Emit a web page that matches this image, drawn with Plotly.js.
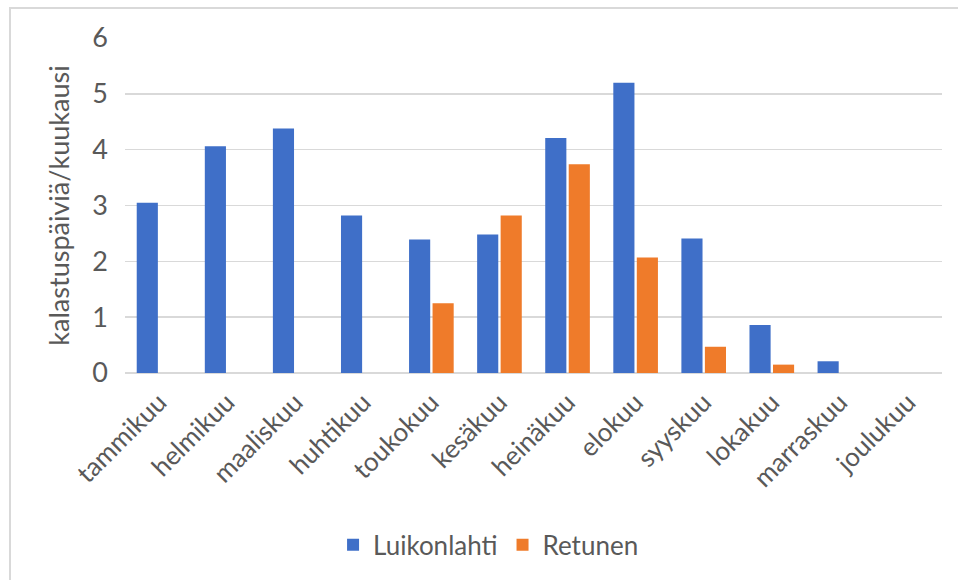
<!DOCTYPE html>
<html>
<head>
<meta charset="utf-8">
<script src="https://cdn.plot.ly/plotly-3.0.1.min.js"></script>
<style>
  html, body { margin: 0; padding: 0; background: #fff; }
  #frame { position: absolute; left: 9px; top: 7px; width: 960px; height: 580px;
           border-top: 2px solid #d9d9d9; border-left: 2px solid #d9d9d9; box-sizing: border-box; pointer-events: none; }
  #chart { position: absolute; left: 0; top: 0; width: 958px; height: 580px; }
</style>
</head>
<body>
<div id="chart"></div>
<div id="frame"></div>
<script>
const months = ["tammikuu","helmikuu","maaliskuu","huhtikuu","toukokuu","kesäkuu","heinäkuu","elokuu","syyskuu","lokakuu","marraskuu","joulukuu"];
const luikonlahti = [3.05, 4.06, 4.38, 2.82, 2.39, 2.48, 4.21, 5.2, 2.41, 0.86, 0.21, 0];
const retunen = [0, 0, 0, 0, 1.25, 2.82, 3.74, 2.07, 0.47, 0.15, 0, 0];
const yTicks = [0, 1, 2, 3, 4, 5, 6];

const fontFam = "Lato, 'Open Sans', sans-serif";
const grey = "#595959";

const traces = [
  { type: "bar", name: "Luikonlahti", x: months, y: luikonlahti,
    marker: { color: "#3f6fc8" }, hoverinfo: "none" },
  { type: "bar", name: "Retunen", x: months, y: retunen,
    marker: { color: "#ef7b2a" }, hoverinfo: "none" }
];

const layout = {
  width: 958, height: 580,
  margin: { l: 125, r: 16, t: 38, b: 205 },
  paper_bgcolor: "rgba(0,0,0,0)", plot_bgcolor: "#fff",
  barmode: "group", bargap: 0.31, bargroupgap: 0.1,
  font: { family: fontFam, color: grey, size: 26 },
  showlegend: true,
  legend: { orientation: "h", x: 0.445, xanchor: "center", y: -0.513, yanchor: "middle",
            font: { family: fontFam, size: 26, color: grey }, itemwidth: 30, traceorder: "normal" },
  xaxis: { type: "category", tickangle: -45, showgrid: false, zeroline: false, showline: false, automargin: false,
           ticks: "", tickfont: { family: fontFam, size: 26, color: grey }, ticklabelstandoff: 8 },
  yaxis: { range: [0, 6], tickvals: yTicks, ticktext: yTicks.map(String), showgrid: true, automargin: false,
           gridcolor: "#d9d9d9", gridwidth: 1.5, zeroline: true, zerolinecolor: "#d9d9d9", zerolinewidth: 1.5,
           showline: false, ticks: "", tickfont: { family: fontFam, size: 27, color: grey }, ticklabelstandoff: 16,
           title: { text: "kalastuspäiviä/kuukausi", font: { family: fontFam, size: 27, color: grey }, standoff: 14 } }
};

Plotly.newPlot("chart", traces, layout, { displayModeBar: false, staticPlot: true });
</script>
</body>
</html>
